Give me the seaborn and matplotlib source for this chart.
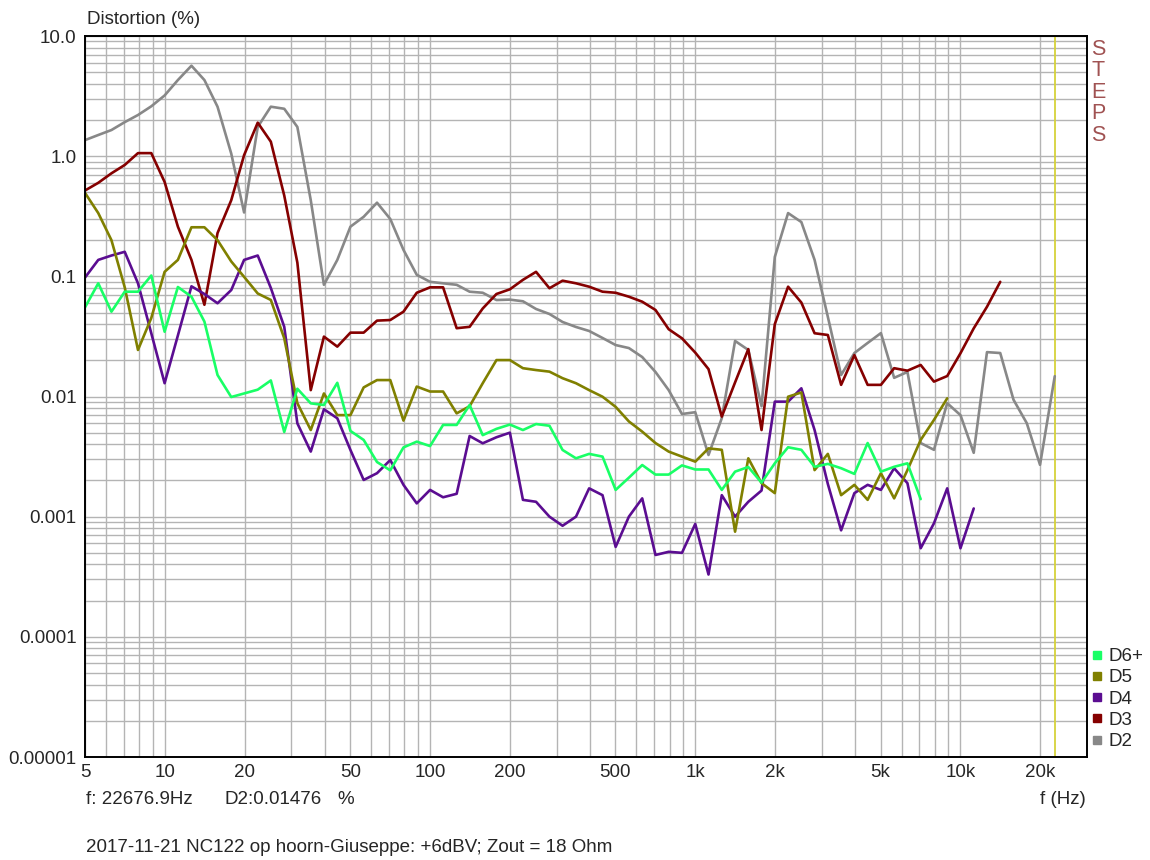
import numpy as np
import pandas as pd
import matplotlib
matplotlib.use("Agg")
import matplotlib.pyplot as plt
from matplotlib.lines import Line2D
from matplotlib.ticker import FixedLocator, FixedFormatter, LogLocator, NullFormatter
import seaborn as sns

# Measurement frequencies (Hz), 20 steps per decade
FREQ = [5.0, 5.61, 6.29, 7.06, 7.92, 8.89, 9.98, 11.2, 12.6, 14.1, 15.8, 17.8, 19.9,
        22.4, 25.1, 28.2, 31.6, 35.5, 39.8, 44.7, 50.1, 56.2, 63.1, 70.8, 79.4, 89.1,
        100, 112, 126, 141, 158, 178, 200, 224, 251, 282, 316, 355, 398, 447, 501,
        562, 631, 708, 794, 891, 1000, 1122, 1259, 1413, 1585, 1778, 1995, 2239,
        2512, 2818, 3162, 3548, 3981, 4467, 5012, 5623, 6310, 7079, 7943, 8913,
        10000, 11220, 12589, 14125, 15849, 17783, 19953, 22677]

# Harmonic distortion per order (%)
D2 = [1.36, 1.5, 1.65, 1.92, 2.2, 2.6, 3.2, 4.3, 5.66, 4.3, 2.58, 1.05, 0.34, 1.75,
      2.58, 2.48, 1.75, 0.43, 0.085, 0.137, 0.259, 0.313, 0.41, 0.30, 0.166, 0.103,
      0.090, 0.0875, 0.085, 0.0745, 0.073, 0.0635, 0.064, 0.062, 0.0535, 0.0486,
      0.0417, 0.0379, 0.0351, 0.0307, 0.0268, 0.0253, 0.0213, 0.016, 0.0113,
      0.00715, 0.0074, 0.00326, 0.0066, 0.029, 0.0244, 0.0083, 0.145, 0.336, 0.283,
      0.137, 0.046, 0.0151, 0.023, 0.0279, 0.0337, 0.0143, 0.016, 0.0041, 0.0036,
      0.0088, 0.0070, 0.0034, 0.0234, 0.023, 0.0094, 0.0060, 0.0027, 0.01476]
D3 = [0.518, 0.60, 0.72, 0.845, 1.06, 1.06, 0.61, 0.259, 0.137, 0.058, 0.229, 0.43,
      1.02, 1.9, 1.32, 0.47, 0.13, 0.0113, 0.0315, 0.026, 0.034, 0.034, 0.0428,
      0.0433, 0.0508, 0.073, 0.081, 0.081, 0.037, 0.038, 0.054, 0.0713, 0.078,
      0.0935, 0.109, 0.0796, 0.092, 0.0875, 0.082, 0.0745, 0.073, 0.0677, 0.0615,
      0.0525, 0.0363, 0.0305, 0.0232, 0.0169, 0.0068, 0.0131, 0.0248, 0.00526,
      0.040, 0.082, 0.0605, 0.0336, 0.0325, 0.0125, 0.0221, 0.0125, 0.0125, 0.0172,
      0.0164, 0.0183, 0.0133, 0.0148, 0.0229, 0.0369, 0.0558, 0.090]
D4 = [0.0977, 0.137, 0.149, 0.160, 0.0875, 0.0336, 0.0129, 0.0322, 0.0826, 0.0713,
      0.0597, 0.0769, 0.137, 0.149, 0.080, 0.038, 0.00598, 0.00348, 0.00783,
      0.00659, 0.00359, 0.00202, 0.0023, 0.00296, 0.00184, 0.00129, 0.00167,
      0.00145, 0.00155, 0.00469, 0.00408, 0.00458, 0.005, 0.00138, 0.00133, 0.001,
      0.00084, 0.001, 0.00172, 0.00151, 0.00056, 0.001, 0.00142, 0.00048, 0.00051,
      0.0005, 0.00087, 0.00033, 0.00151, 0.001, 0.00133, 0.00165, 0.00906, 0.00906,
      0.0117, 0.00526, 0.00187, 0.00077, 0.00157, 0.00184, 0.00167, 0.00253, 0.0019,
      0.000546, 0.00088, 0.00172, 0.000546, 0.00117]
D5 = [0.495, 0.336, 0.20, 0.081, 0.0244, 0.045, 0.109, 0.137, 0.256, 0.256, 0.20,
      0.133, 0.099, 0.072, 0.0636, 0.0305, 0.0088, 0.00526, 0.0106, 0.0070, 0.0070,
      0.0119, 0.0137, 0.0137, 0.0063, 0.0121, 0.011, 0.011, 0.00724, 0.0083, 0.0129,
      0.0201, 0.0201, 0.0172, 0.0166, 0.0161, 0.0142, 0.0129, 0.0113, 0.00996,
      0.0082, 0.0062, 0.0051, 0.0041, 0.00348, 0.00316, 0.00287, 0.0037, 0.0036,
      0.00075, 0.00306, 0.0019, 0.00157, 0.00996, 0.0108, 0.00244, 0.00333, 0.00151,
      0.00184, 0.00138, 0.0023, 0.00142, 0.00244, 0.00435, 0.00638, 0.00966]
D6 = [0.0552, 0.0875, 0.0508, 0.0745, 0.0745, 0.1016, 0.0346, 0.0815, 0.0677, 0.042,
      0.0151, 0.0099, 0.0106, 0.0114, 0.0136, 0.00507, 0.0116, 0.00877, 0.0085,
      0.013, 0.00517, 0.00435, 0.00285, 0.00243, 0.00377, 0.00421, 0.00387, 0.0058,
      0.0058, 0.0085, 0.00477, 0.00538, 0.00584, 0.00526, 0.0059, 0.00571, 0.00359,
      0.00306, 0.00333, 0.00316, 0.00167, 0.00211, 0.00269, 0.00224, 0.00224,
      0.00267, 0.00247, 0.00247, 0.00167, 0.00237, 0.00259, 0.00192, 0.00278,
      0.00378, 0.0036, 0.0026, 0.00275, 0.00253, 0.00227, 0.0041, 0.00237, 0.0026,
      0.00278, 0.0014]

SERIES = ["D2", "D3", "D4", "D5", "D6+"]
LEGEND_ORDER = ["D6+", "D5", "D4", "D3", "D2"]
COLORS = {"D2": "#888888", "D3": "#850000", "D4": "#5b0d91", "D5": "#808000",
          "D6+": "#19ff66"}

X_TICKS = [5, 10, 20, 50, 100, 200, 500, 1000, 2000, 5000, 10000, 20000]
X_LABELS = ["5", "10", "20", "50", "100", "200", "500", "1k", "2k", "5k", "10k", "20k"]
Y_TICKS = [1e-5, 1e-4, 1e-3, 1e-2, 1e-1, 1, 10]
Y_LABELS = ["0.00001", "0.0001", "0.001", "0.01", "0.1", "1.0", "10.0"]

CURSOR_F = 22676.9
CURSOR_D2 = D2[-1]

values = {"D2": D2, "D3": D3, "D4": D4, "D5": D5, "D6+": D6}
df = pd.concat(
    [pd.DataFrame({"f": FREQ[:len(v)], "d": v, "order": k}) for k, v in values.items()],
    ignore_index=True,
)

sns.set_theme(style="white")
plt.rcParams["font.family"] = ["Liberation Sans", "DejaVu Sans"]
TXT = "#262626"
FS = 13.5

W, H = 1150, 860
fig = plt.figure(figsize=(W / 100, H / 100), dpi=100)
ax = fig.add_axes([85 / W, 1 - 757 / H, (1087 - 85) / W, (757 - 36) / H])

for name in SERIES:
    sns.lineplot(data=df[df["order"] == name], x="f", y="d", color=COLORS[name],
                 lw=1.9, estimator=None, sort=False, ax=ax, legend=False)

ax.set_xscale("log")
ax.set_yscale("log")
ax.set_xlim(5, 30000)
ax.set_ylim(1e-5, 10)

ax.xaxis.set_major_locator(FixedLocator(X_TICKS))
ax.xaxis.set_major_formatter(FixedFormatter(X_LABELS))
ax.xaxis.set_minor_locator(LogLocator(base=10, subs=np.arange(1, 10), numticks=50))
ax.xaxis.set_minor_formatter(NullFormatter())
ax.yaxis.set_major_locator(FixedLocator(Y_TICKS))
ax.yaxis.set_major_formatter(FixedFormatter(Y_LABELS))
ax.yaxis.set_minor_locator(LogLocator(base=10, subs=np.arange(1, 10), numticks=50))
ax.yaxis.set_minor_formatter(NullFormatter())

ax.grid(True, which="both", color="#b4b4b4", lw=1.0)
ax.set_axisbelow(True)
ax.tick_params(which="both", length=0, labelsize=FS, colors=TXT)
ax.tick_params(axis="y", pad=6)
ax.tick_params(axis="x", pad=5)
ax.set_xlabel("")
ax.set_ylabel("")
for s in ax.spines.values():
    s.set_visible(True)
    s.set_color("black")
    s.set_linewidth(1.4)

ax.axvline(CURSOR_F, color="#d6d23a", lw=1.3, zorder=1.5)

def px(x, y, s, **kw):
    kw.setdefault("fontsize", FS)
    kw.setdefault("color", TXT)
    fig.text(x / W, 1 - y / H, s, **kw)

px(87, 20, "Distortion (%)", va="center", ha="left")
px(86, 800, f"f: {CURSOR_F:.1f}Hz", va="center")
px(225, 800, f"D2:{CURSOR_D2:.5f}", va="center")
px(337, 800, "%", va="center")
px(1086, 800, "f (Hz)", va="center", ha="right")
px(86, 847, "2017-11-21 NC122 op hoorn-Giuseppe: +6dBV; Zout = 18 Ohm", va="center")

for i, ch in enumerate("STEPS"):
    px(1098, 49.5 + 21.4 * i, ch, ha="center", va="center", color="#a05252", fontsize=15.5)

handles = [Line2D([], [], ls="none", marker="s", markersize=6, color=COLORS[n])
           for n in LEGEND_ORDER]
fig.legend(handles, LEGEND_ORDER, loc="upper left",
           bbox_to_anchor=(1091 / W, 1 - 648 / H), frameon=False, fontsize=FS,
           handlelength=0.6, handletextpad=0.35, labelspacing=0.22,
           borderpad=0, borderaxespad=0, labelcolor=TXT)

fig.savefig("out.png", dpi=100, facecolor="white")
